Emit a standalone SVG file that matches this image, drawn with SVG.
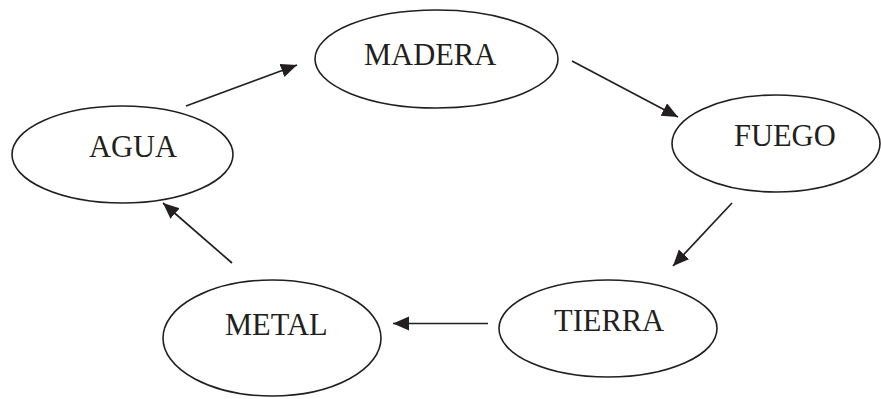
<svg xmlns="http://www.w3.org/2000/svg" width="881" height="399" viewBox="0 0 881 399">
<style>
.node ellipse{fill:#fff;stroke:#231f20;stroke-width:1.6}
.node text{font-family:"Liberation Serif","Times New Roman",serif;font-size:30.5px;fill:#231f20}
.edges line{stroke:#231f20;stroke-width:1.7;marker-end:url(#ah)}
</style>
<defs>
<marker id="ah" markerUnits="userSpaceOnUse" markerWidth="17" markerHeight="15" refX="16" refY="7" orient="auto">
<path d="M0,0 L16,7 L0,14 z" fill="#231f20"/>
</marker>
</defs>
<rect width="881" height="399" fill="#fff"/>
<g id="madera" class="node"><ellipse cx="436.5" cy="59" rx="121.5" ry="49"/><text x="364" y="65">MADERA</text></g>
<g id="fuego" class="node"><ellipse cx="776" cy="143.5" rx="104" ry="48.5"/><text x="734" y="146">FUEGO</text></g>
<g id="agua" class="node"><ellipse cx="122.5" cy="154.5" rx="110.5" ry="48.5"/><text x="89" y="157">AGUA</text></g>
<g id="metal" class="node"><ellipse cx="272" cy="338" rx="109" ry="58"/><text x="225" y="335">METAL</text></g>
<g id="tierra" class="node"><ellipse cx="608" cy="328.5" rx="109" ry="48.5"/><text x="554" y="331">TIERRA</text></g>
<g id="connectors" class="edges">
<line x1="186" y1="106" x2="297" y2="65"/>
<line x1="572" y1="61" x2="678" y2="117"/>
<line x1="732" y1="203" x2="673" y2="266"/>
<line x1="488" y1="323.5" x2="393" y2="323.5"/>
<line x1="232" y1="263" x2="163" y2="203"/>
</g>
</svg>
